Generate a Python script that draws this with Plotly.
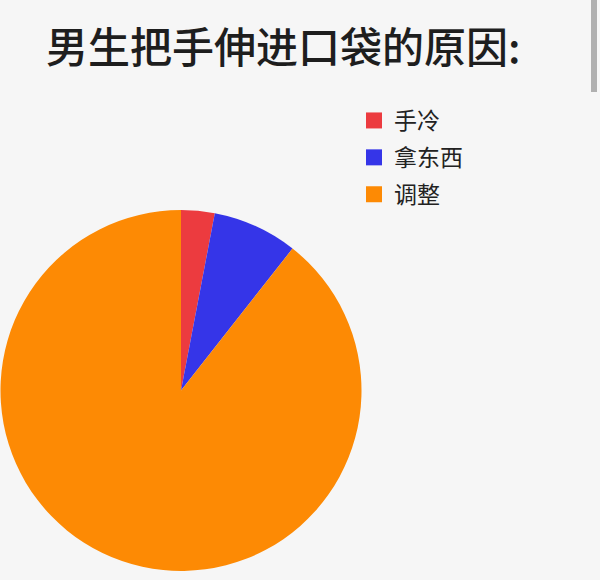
import plotly.graph_objects as go

labels = ["手冷", "拿东西", "调整"]
values = [3, 7.6, 89.4]
colors = ["#ec3b3f", "#3535e8", "#fd8a04"]
title = "男生把手伸进口袋的原因:"

W, H = 600, 580
fig = go.Figure()
fig.add_trace(go.Pie(
    labels=labels, values=values, sort=False, direction="clockwise", rotation=0,
    marker=dict(colors=colors, line=dict(width=0)),
    textinfo="none", hoverinfo="label+percent", showlegend=False,
    domain=dict(x=[0/W, 362/W], y=[1-571/H, 1-210/H]),
))
# legend entries (same labels/colours as the pie) with larger square swatches
for lab, col in zip(labels, colors):
    fig.add_trace(go.Scatter(
        x=[None], y=[None], mode="markers", name=lab, legendgroup=lab,
        marker=dict(symbol="square", size=17, color=col, line=dict(width=0)),
        hoverinfo="skip",
    ))
fig.update_layout(
    width=W, height=H,
    margin=dict(l=0, r=0, t=0, b=0),
    paper_bgcolor="#f6f6f6", plot_bgcolor="#f6f6f6",
    showlegend=True,
    xaxis=dict(visible=False), yaxis=dict(visible=False),
    legend=dict(x=354/W, y=1-99/H, xanchor="left", yanchor="top",
                traceorder="grouped", tracegroupgap=4, itemsizing="trace",
                font=dict(family="Noto Sans CJK SC", size=23, color="#222222"),
                bgcolor="rgba(0,0,0,0)", itemwidth=30),
    annotations=[dict(text=title, x=44/W, y=1-45/H, xref="paper", yref="paper",
                      xanchor="left", yanchor="middle", showarrow=False,
                      font=dict(family="Noto Sans CJK SC", size=42, color="#1e1e1e", weight=500))],
    shapes=[dict(type="rect", xref="paper", yref="paper", x0=591/W, x1=597/W, y0=1-92/H, y1=1.0,
                 fillcolor="#b0b0b0", line=dict(width=0), layer="above")],
)
fig.write_html("out.html", config={"displayModeBar": False},
               post_script="document.body.style.margin='0';")
